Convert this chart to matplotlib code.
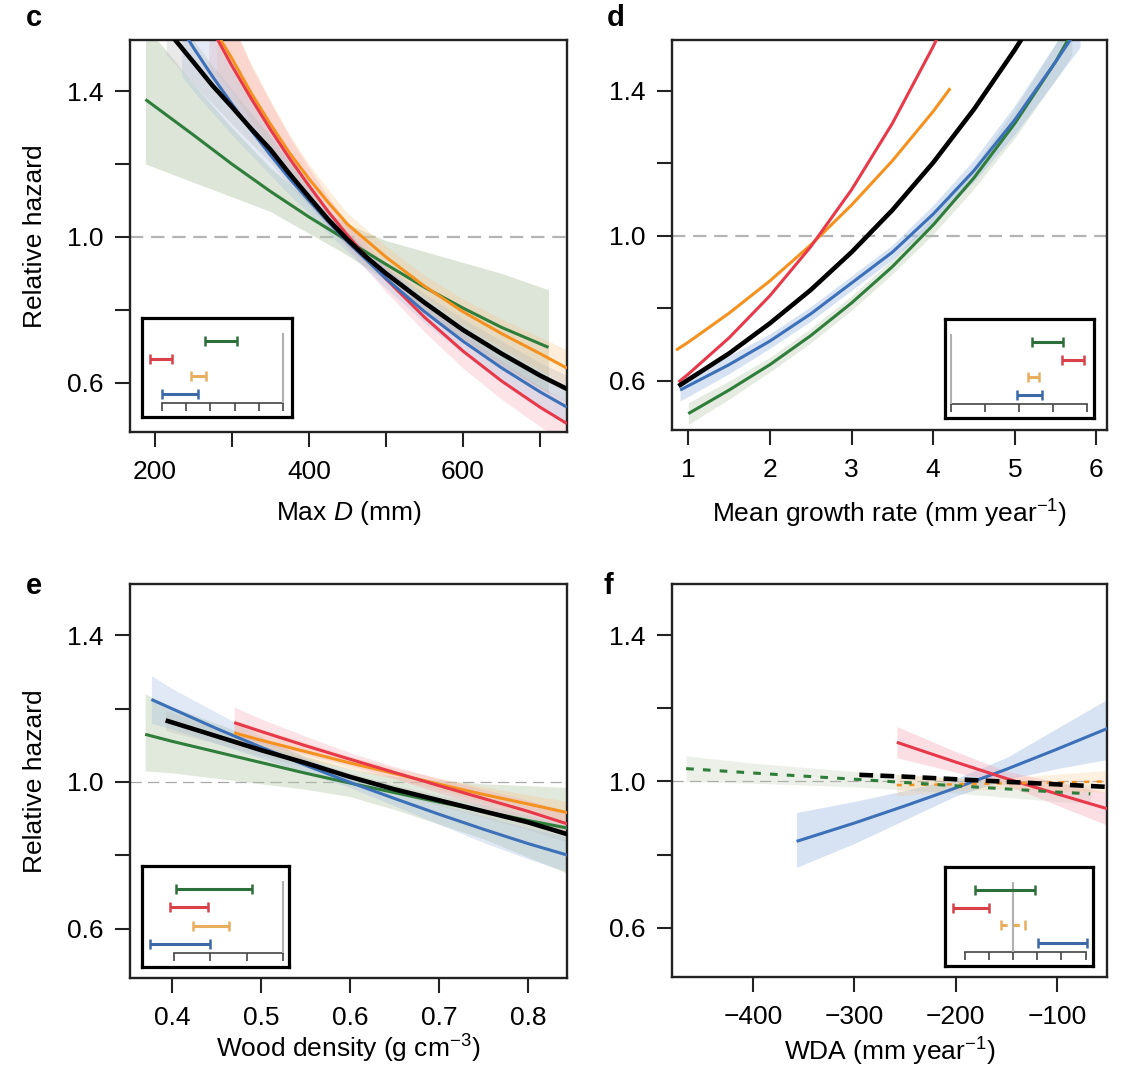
import numpy as np
import matplotlib
matplotlib.use('Agg')
import matplotlib.pyplot as plt

plt.rcParams['font.family'] = ['Liberation Sans', 'DejaVu Sans']
plt.rcParams['mathtext.fontset'] = 'custom'
plt.rcParams['mathtext.rm'] = 'Liberation Sans'
plt.rcParams['mathtext.it'] = 'Liberation Sans:italic'
plt.rcParams['mathtext.sf'] = 'Liberation Sans'

GREEN = '#2f7d3a'
RED = '#e8394a'
ORANGE = '#f5921f'
BLUE = '#3c70b8'
BLACK = '#000000'
BAND = {GREEN: '#b5c7a9', RED: '#f4a3b4', ORANGE: '#fbc68a', BLUE: '#a7c0e4', BLACK: '#b8b8b8'}

# ---------- panel c : Max D ----------
c_x_green = [188, 250, 300, 350, 400, 450, 500, 550, 600, 650, 711]
c_y_green = [1.377, 1.28, 1.20, 1.125, 1.055, 0.99, 0.925, 0.862, 0.805, 0.752, 0.697]
c_lo_green = [1.20, 1.15, 1.11, 1.07, 1.01, 0.95, 0.88, 0.80, 0.72, 0.65, 0.57]
c_hi_green = [1.58, 1.42, 1.30, 1.19, 1.10, 1.035, 0.99, 0.96, 0.93, 0.90, 0.855]

c_x_orange = [280, 300, 325, 350, 375, 400, 425, 450, 500, 550, 600, 650, 700, 735]
c_y_orange = [1.56, 1.49, 1.395, 1.31, 1.23, 1.16, 1.095, 1.035, 0.945, 0.865, 0.795, 0.735, 0.68, 0.64]
c_lo_orange = [1.45, 1.40, 1.32, 1.25, 1.18, 1.12, 1.06, 1.005, 0.915, 0.835, 0.76, 0.695, 0.635, 0.59]
c_hi_orange = [1.68, 1.59, 1.475, 1.375, 1.28, 1.20, 1.13, 1.065, 0.975, 0.895, 0.83, 0.775, 0.725, 0.69]

c_x_red = [270, 300, 325, 350, 375, 400, 425, 450, 500, 550, 600, 650, 700, 735]
c_y_red = [1.586, 1.470, 1.38, 1.295, 1.215, 1.141, 1.07, 1.005, 0.885, 0.780, 0.687, 0.605, 0.533, 0.488]
c_lo_red = [1.45, 1.36, 1.29, 1.225, 1.16, 1.095, 1.03, 0.97, 0.85, 0.74, 0.64, 0.555, 0.48, 0.43]
c_hi_red = [1.74, 1.59, 1.47, 1.37, 1.275, 1.19, 1.11, 1.04, 0.92, 0.82, 0.735, 0.66, 0.59, 0.55]

c_x_blue = [235, 250, 275, 300, 325, 350, 375, 400, 425, 450, 500, 550, 600, 650, 700, 735]
c_y_blue = [1.570, 1.520, 1.44, 1.365, 1.293, 1.225, 1.16, 1.100, 1.042, 0.987, 0.886, 0.795, 0.714, 0.641, 0.575, 0.533]
c_lo_blue = [1.44, 1.40, 1.34, 1.28, 1.225, 1.17, 1.115, 1.065, 1.01, 0.96, 0.86, 0.765, 0.68, 0.60, 0.53, 0.485]
c_hi_blue = [1.71, 1.65, 1.55, 1.46, 1.37, 1.285, 1.21, 1.14, 1.075, 1.015, 0.915, 0.83, 0.75, 0.685, 0.625, 0.585]

c_x_black = [215, 250, 275, 300, 325, 350, 375, 400, 425, 450, 475, 500, 550, 600, 650, 700, 735]
c_y_black = [1.57, 1.48, 1.415, 1.357, 1.297, 1.24, 1.173, 1.11, 1.048, 0.993, 0.944, 0.90, 0.82, 0.745, 0.68, 0.62, 0.583]
c_lo_black = [1.50, 1.42, 1.365, 1.31, 1.257, 1.205, 1.143, 1.085, 1.026, 0.975, 0.925, 0.88, 0.795, 0.715, 0.645, 0.585, 0.548]
c_hi_black = [1.64, 1.54, 1.47, 1.405, 1.34, 1.275, 1.205, 1.135, 1.07, 1.012, 0.963, 0.92, 0.845, 0.775, 0.715, 0.655, 0.62]

# inset effect sizes (green, red, orange, blue)
c_bar_lo = [-0.322, -0.55, -0.38, -0.50]
c_bar_hi = [-0.19, -0.459, -0.318, -0.351]

# ---------- panel d : mean growth rate ----------
d_x_green = [1.0, 1.5, 2.0, 2.5, 3.0, 3.5, 4.0, 4.5, 5.0, 5.5, 5.7]
d_y_green = [0.51, 0.575, 0.645, 0.725, 0.815, 0.915, 1.03, 1.16, 1.31, 1.48, 1.56]
d_lo_green = [0.48, 0.55, 0.625, 0.705, 0.795, 0.895, 1.005, 1.13, 1.27, 1.43, 1.50]
d_hi_green = [0.54, 0.60, 0.665, 0.745, 0.835, 0.935, 1.055, 1.19, 1.35, 1.53, 1.62]

d_x_blue = [0.9, 1.5, 2.0, 2.5, 3.0, 3.5, 4.0, 4.5, 5.0, 5.5, 5.8]
d_y_blue = [0.575, 0.645, 0.71, 0.785, 0.87, 0.955, 1.06, 1.18, 1.32, 1.48, 1.58]
d_lo_blue = [0.545, 0.62, 0.69, 0.765, 0.85, 0.935, 1.035, 1.15, 1.28, 1.43, 1.52]
d_hi_blue = [0.605, 0.67, 0.73, 0.805, 0.89, 0.975, 1.085, 1.21, 1.36, 1.53, 1.64]

d_x_orange = [0.85, 1.0, 1.5, 2.0, 2.5, 3.0, 3.5, 4.0, 4.21]
d_y_orange = [0.685, 0.707, 0.787, 0.876, 0.975, 1.085, 1.207, 1.343, 1.407]

d_x_red = [0.88, 1.0, 1.5, 2.0, 2.5, 3.0, 3.5, 4.0, 4.2]
d_y_red = [0.597, 0.619, 0.719, 0.835, 0.970, 1.127, 1.310, 1.522, 1.616]

d_x_black = [0.88, 1.5, 2.0, 2.5, 3.0, 3.5, 4.0, 4.5, 5.0, 5.2]
d_y_black = [0.586, 0.676, 0.759, 0.851, 0.955, 1.071, 1.202, 1.349, 1.513, 1.584]

d_bar_lo = [0.238, 0.326, 0.226, 0.194]
d_bar_hi = [0.329, 0.391, 0.259, 0.268]

# ---------- panel e : wood density ----------
e_x_green = [0.37, 0.4, 0.45, 0.5, 0.55, 0.6, 0.65, 0.7, 0.75, 0.8, 0.845]
e_y_green = [1.13, 1.111, 1.082, 1.053, 1.024, 0.997, 0.971, 0.945, 0.92, 0.895, 0.874]
e_lo_green = [1.03, 1.025, 1.01, 0.995, 0.98, 0.96, 0.925, 0.885, 0.845, 0.795, 0.75]
e_hi_green = [1.24, 1.205, 1.16, 1.115, 1.07, 1.035, 1.015, 1.005, 0.995, 0.99, 0.985]

e_x_blue = [0.377, 0.4, 0.45, 0.5, 0.55, 0.6, 0.65, 0.7, 0.75, 0.8, 0.845]
e_y_blue = [1.225, 1.2, 1.146, 1.095, 1.046, 0.999, 0.955, 0.912, 0.871, 0.832, 0.80]
e_lo_blue = [1.16, 1.145, 1.105, 1.065, 1.025, 0.985, 0.935, 0.885, 0.835, 0.79, 0.755]
e_hi_blue = [1.29, 1.255, 1.19, 1.125, 1.067, 1.013, 0.975, 0.94, 0.907, 0.875, 0.85]

e_x_orange = [0.47, 0.5, 0.55, 0.6, 0.65, 0.7, 0.75, 0.8, 0.845]
e_y_orange = [1.134, 1.114, 1.083, 1.052, 1.023, 0.994, 0.966, 0.94, 0.916]
e_lo_orange = [1.10, 1.085, 1.06, 1.035, 1.008, 0.978, 0.945, 0.915, 0.885]
e_hi_orange = [1.17, 1.145, 1.108, 1.07, 1.038, 1.01, 0.987, 0.965, 0.947]

e_x_red = [0.47, 0.5, 0.55, 0.6, 0.65, 0.7, 0.75, 0.8, 0.845]
e_y_red = [1.162, 1.138, 1.099, 1.062, 1.026, 0.99, 0.955, 0.92, 0.885]
e_lo_red = [1.12, 1.105, 1.075, 1.045, 1.01, 0.97, 0.93, 0.89, 0.85]
e_hi_red = [1.205, 1.172, 1.125, 1.08, 1.042, 1.01, 0.98, 0.95, 0.92]

e_x_black = [0.393, 0.45, 0.5, 0.55, 0.6, 0.65, 0.7, 0.75, 0.8, 0.845]
e_y_black = [1.168, 1.125, 1.087, 1.052, 1.014, 0.98, 0.95, 0.92, 0.89, 0.857]
e_lo_black = [1.14, 1.105, 1.072, 1.04, 1.003, 0.968, 0.936, 0.903, 0.87, 0.835]
e_hi_black = [1.195, 1.145, 1.102, 1.064, 1.025, 0.992, 0.964, 0.937, 0.91, 0.88]

e_bar_lo = [-0.294, -0.311, -0.248, -0.366]
e_bar_hi = [-0.085, -0.206, -0.149, -0.20]

# ---------- panel f : WDA ----------
f_x_green = [-466, -400, -300, -200, -100, -67]
f_y_green = [1.035, 1.023, 1.006, 0.988, 0.971, 0.966]
f_lo_green = [1.0, 0.995, 0.985, 0.968, 0.945, 0.94]
f_hi_green = [1.07, 1.05, 1.027, 1.008, 0.997, 0.993]

f_x_blue = [-357, -300, -250, -200, -150, -100, -50]
f_y_blue = [0.836, 0.886, 0.933, 0.982, 1.033, 1.088, 1.145]
f_lo_blue = [0.765, 0.83, 0.895, 0.96, 1.005, 1.035, 1.06]
f_hi_blue = [0.915, 0.945, 0.975, 1.008, 1.065, 1.145, 1.225]

f_x_red = [-258, -200, -150, -100, -50]
f_y_red = [1.107, 1.053, 1.008, 0.966, 0.925]
f_lo_red = [1.065, 1.025, 0.99, 0.935, 0.88]
f_hi_red = [1.15, 1.082, 1.028, 0.998, 0.97]

f_x_orange = [-258, -200, -150, -100, -50]
f_y_orange = [0.99, 0.992, 0.995, 0.997, 1.0]
f_lo_orange = [0.96, 0.975, 0.98, 0.975, 0.97]
f_hi_orange = [1.02, 1.01, 1.01, 1.02, 1.03]

f_x_black = [-295, -250, -200, -150, -100, -50]
f_y_black = [1.018, 1.013, 1.006, 0.999, 0.992, 0.985]

f_bar_lo = [-0.157, -0.248, -0.05, 0.103]
f_bar_hi = [0.091, -0.099, 0.05, 0.306]

y_ticks = [0.6, 0.8, 1.0, 1.2, 1.4]
y_labels = ['0.6', '', '1.0', '', '1.4']
FS = 19

fig = plt.figure(figsize=(11.25, 10.73), dpi=100)


def setup(ax, xlim, xticks, xlabels, xlabel, xlab_y, thin_ref):
    ax.set_xlim(xlim)
    ax.set_ylim(0.465, 1.54)
    ax.set_yticks(y_ticks)
    ax.set_yticklabels(y_labels)
    ax.set_xticks(xticks)
    ax.set_xticklabels(xlabels)
    ax.tick_params(direction='out', length=11, width=1.5, labelsize=FS,
                   color='#222222')
    ax.tick_params(axis='y', pad=8)
    ax.tick_params(axis='x', pad=9)
    for s in ax.spines.values():
        s.set_linewidth(1.7)
        s.set_color('#222222')
    if thin_ref:
        ax.axhline(1.0, color='#a8a8a8', lw=0.9, ls=(0, (9, 5)), zorder=1)
    else:
        ax.axhline(1.0, color='#b4b4b4', lw=1.6, ls=(0, (6, 3.5)), zorder=1)
    ax.set_xlabel(xlabel, fontsize=FS)
    ax.xaxis.set_label_coords(0.5, xlab_y)


def band(ax, x, lo, hi, color, alpha=0.4):
    ax.fill_between(x, lo, hi, color=BAND[color], alpha=alpha, lw=0, zorder=2)


def line(ax, x, y, color, lw=2.2, ls='-'):
    ax.plot(x, y, color=color, lw=lw, ls=ls, zorder=3, solid_capstyle='butt',
            solid_joinstyle='round')


def inset(rect, lo, hi, ticks, xlim, dashed_orange=False):
    ax = fig.add_axes(rect)
    ax.set_xlim(xlim)
    ax.set_ylim(-0.3, 5.3)
    ax.set_xticks([])
    ax.set_yticks([])
    for s in ax.spines.values():
        s.set_linewidth(2.3)
        s.set_color('black')
    ax.plot([ticks[0], ticks[-1]], [0.5, 0.5], color='#444444', lw=1.2)
    ax.vlines(ticks, 0.05, 0.5, color='#444444', lw=1.2)
    ax.vlines(0, 0.5, 4.45, color='#b0b0b0', lw=1.5)
    cols = ['#2d6f3b', '#d8404a', '#e8ae5e', '#3d69a6']
    for row, l, h, c in zip([4, 3, 2, 1], lo, hi, cols):
        mid = (l + h) / 2
        eb = ax.errorbar(mid, row, xerr=[[mid - l], [h - mid]], fmt='none',
                         ecolor=c, elinewidth=2.2, capsize=3.5, capthick=1.8)
        if dashed_orange and c == '#e8ae5e':
            eb.lines[2][0].set_linestyle((0, (2, 2)))
    return ax


# ---- c ----
ax_c = fig.add_axes([0.1156, 0.5974, 0.3884, 0.3653])
setup(ax_c, (168, 735), [200, 300, 400, 500, 600, 700],
      ['200', '', '400', '', '600', ''], r'Max $\it{D}$ (mm)', -0.17, False)
band(ax_c, c_x_green, c_lo_green, c_hi_green, GREEN, 0.45)
band(ax_c, c_x_orange, c_lo_orange, c_hi_orange, ORANGE, 0.3)
band(ax_c, c_x_red, c_lo_red, c_hi_red, RED, 0.3)
band(ax_c, c_x_blue, c_lo_blue, c_hi_blue, BLUE, 0.3)
band(ax_c, c_x_black, c_lo_black, c_hi_black, BLACK, 0.3)
line(ax_c, c_x_green, c_y_green, GREEN)
line(ax_c, c_x_orange, c_y_orange, ORANGE)
line(ax_c, c_x_red, c_y_red, RED)
line(ax_c, c_x_blue, c_y_blue, BLUE)
line(ax_c, c_x_black, c_y_black, BLACK, lw=3.3)
ax_c.set_ylabel('Relative hazard', fontsize=FS)
ax_c.yaxis.set_label_coords(-0.19, 0.5)
inset([0.1262, 0.6114, 0.1333, 0.0923], c_bar_lo, c_bar_hi,
      [-0.5, -0.4, -0.3, -0.2, -0.1, 0.0], (-0.583, 0.037))

# ---- d ----
ax_d = fig.add_axes([0.5973, 0.5993, 0.3867, 0.3634])
setup(ax_d, (0.80, 6.13), [1, 2, 3, 4, 5, 6],
      ['1', '2', '3', '4', '5', '6'],
      r'Mean growth rate (mm year$^{-1}$)', -0.175, False)
band(ax_d, d_x_green, d_lo_green, d_hi_green, GREEN, 0.35)
band(ax_d, d_x_blue, d_lo_blue, d_hi_blue, BLUE, 0.45)
line(ax_d, d_x_orange, d_y_orange, ORANGE)
line(ax_d, d_x_red, d_y_red, RED)
line(ax_d, d_x_green, d_y_green, GREEN)
line(ax_d, d_x_blue, d_y_blue, BLUE)
line(ax_d, d_x_black, d_y_black, BLACK, lw=3.3)
inset([0.84, 0.6104, 0.1324, 0.0923], d_bar_lo, d_bar_hi,
      [0.0, 0.1, 0.2, 0.3, 0.4], (-0.018, 0.42))

# ---- e ----
ax_e = fig.add_axes([0.1156, 0.0885, 0.3884, 0.3672])
setup(ax_e, (0.353, 0.844), [0.4, 0.5, 0.6, 0.7, 0.8],
      ['0.4', '0.5', '0.6', '0.7', '0.8'],
      r'Wood density (g cm$^{-3}$)', -0.14, True)
band(ax_e, e_x_green, e_lo_green, e_hi_green, GREEN, 0.4)
band(ax_e, e_x_blue, e_lo_blue, e_hi_blue, BLUE, 0.35)
band(ax_e, e_x_orange, e_lo_orange, e_hi_orange, ORANGE, 0.3)
band(ax_e, e_x_red, e_lo_red, e_hi_red, RED, 0.3)
band(ax_e, e_x_black, e_lo_black, e_hi_black, BLACK, 0.25)
line(ax_e, e_x_green, e_y_green, GREEN)
line(ax_e, e_x_blue, e_y_blue, BLUE)
line(ax_e, e_x_orange, e_y_orange, ORANGE)
line(ax_e, e_x_red, e_y_red, RED)
line(ax_e, e_x_black, e_y_black, BLACK, lw=3.3)
ax_e.set_ylabel('Relative hazard', fontsize=FS)
ax_e.yaxis.set_label_coords(-0.19, 0.5)
inset([0.1262, 0.0988, 0.1307, 0.0941], e_bar_lo, e_bar_hi,
      [-0.3, -0.2, -0.1, 0.0], (-0.388, 0.0165))

# ---- f ----
ax_f = fig.add_axes([0.5973, 0.0895, 0.3867, 0.3662])
setup(ax_f, (-480, -50.5), [-400, -300, -200, -100],
      ['\u2212400', '\u2212300', '\u2212200', '\u2212100'],
      r'WDA (mm year$^{-1}$)', -0.15, True)
band(ax_f, f_x_green, f_lo_green, f_hi_green, GREEN, 0.25)
band(ax_f, f_x_blue, f_lo_blue, f_hi_blue, BLUE, 0.45)
band(ax_f, f_x_red, f_lo_red, f_hi_red, RED, 0.35)
band(ax_f, f_x_orange, f_lo_orange, f_hi_orange, ORANGE, 0.25)
line(ax_f, f_x_blue, f_y_blue, BLUE)
line(ax_f, f_x_red, f_y_red, RED)
line(ax_f, f_x_orange, f_y_orange, ORANGE, lw=1.8, ls=(0, (2, 3)))
line(ax_f, f_x_green, f_y_green, GREEN, lw=2.2, ls=(0, (2.5, 3)))
line(ax_f, f_x_black, f_y_black, BLACK, lw=3.3, ls=(0, (3, 1.6)))
inset([0.84, 0.0997, 0.1316, 0.0923], f_bar_lo, f_bar_hi,
      [-0.2, -0.1, 0.0, 0.1, 0.2, 0.3], (-0.281, 0.331), dashed_orange=True)

# panel letters
for lab, px, py in [('c', 26, 18), ('d', 607, 18), ('e', 26, 586), ('f', 604, 586)]:
    fig.text(px / 1125, 1 - py / 1073, lab, fontsize=21, fontweight='bold',
             va='center', ha='left')

fig.savefig('out.png', dpi=100)
